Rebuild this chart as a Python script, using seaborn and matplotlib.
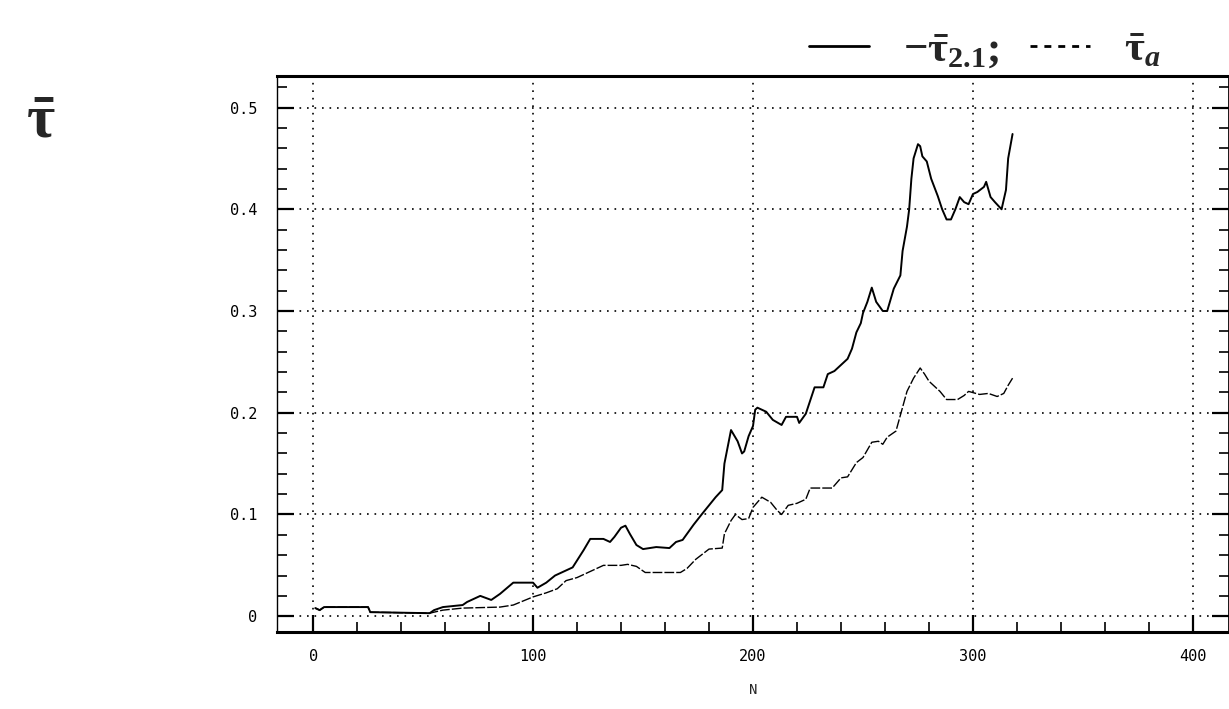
import numpy as np
import pandas as pd
import matplotlib
matplotlib.use("Agg")
import matplotlib.pyplot as plt
from matplotlib.lines import Line2D
from matplotlib.ticker import MultipleLocator
import seaborn as sns

# Valores: curva superior (-tau_2.1)
n_sup = [1, 3, 5, 25, 26, 53, 55, 59, 68, 70, 76, 81, 85, 91, 100, 102, 106, 110,
         118, 123, 126, 132, 135, 137, 140, 142, 144, 147, 150, 156, 162, 165, 168,
         173, 177, 183, 186, 187, 189, 190, 193, 195, 196, 198, 200, 201, 202, 206,
         209, 213, 215, 220, 221, 224, 226, 228, 232, 234, 237, 241, 243, 245, 247,
         249, 250, 252, 254, 256, 259, 261, 264, 267, 268, 270, 271, 272, 273, 275,
         276, 277, 279, 281, 284, 286, 288, 290, 292, 294, 296, 298, 300, 302, 305,
         306, 308, 310, 313, 315, 316, 318]
tau_sup = [0.008, 0.006, 0.009, 0.009, 0.004, 0.003, 0.006, 0.009, 0.011, 0.014,
           0.020, 0.016, 0.022, 0.033, 0.033, 0.028, 0.033, 0.040, 0.048, 0.065,
           0.076, 0.076, 0.073, 0.078, 0.087, 0.089, 0.081, 0.070, 0.066, 0.068,
           0.067, 0.073, 0.075, 0.090, 0.101, 0.117, 0.124, 0.150, 0.172, 0.183,
           0.172, 0.160, 0.162, 0.177, 0.187, 0.203, 0.205, 0.201, 0.193, 0.188,
           0.196, 0.196, 0.190, 0.199, 0.212, 0.225, 0.225, 0.238, 0.241, 0.249,
           0.253, 0.263, 0.279, 0.288, 0.298, 0.309, 0.323, 0.309, 0.300, 0.300,
           0.322, 0.335, 0.359, 0.383, 0.400, 0.430, 0.450, 0.464, 0.462, 0.452,
           0.447, 0.430, 0.413, 0.400, 0.390, 0.390, 0.400, 0.412, 0.407, 0.405,
           0.415, 0.417, 0.422, 0.427, 0.412, 0.407, 0.400, 0.419, 0.450, 0.474]

# Curva inferior (tau_a)
n_inf = [1, 3, 5, 25, 26, 53, 59, 68, 85, 91, 100, 106, 111, 115, 120, 127, 132,
         140, 143, 147, 151, 156, 167, 170, 174, 180, 186, 187, 190, 192, 195, 198,
         200, 204, 208, 211, 213, 216, 220, 224, 226, 236, 240, 243, 247, 250, 254,
         257, 259, 261, 265, 270, 273, 276, 278, 280, 285, 288, 293, 296, 298, 303,
         307, 311, 314, 316, 318]
tau_inf = [0.008, 0.006, 0.009, 0.009, 0.004, 0.003, 0.006, 0.008, 0.009, 0.011,
           0.019, 0.023, 0.027, 0.035, 0.038, 0.045, 0.050, 0.050, 0.051, 0.049,
           0.043, 0.043, 0.043, 0.047, 0.056, 0.066, 0.067, 0.081, 0.094, 0.100,
           0.095, 0.096, 0.107, 0.117, 0.112, 0.104, 0.100, 0.109, 0.111, 0.115,
           0.126, 0.126, 0.136, 0.137, 0.151, 0.156, 0.171, 0.172, 0.169, 0.176,
           0.182, 0.221, 0.234, 0.244, 0.238, 0.231, 0.221, 0.213, 0.213, 0.217,
           0.221, 0.218, 0.219, 0.216, 0.219, 0.227, 0.234]

x_ticks = [0, 100, 200, 300, 400]
y_ticks = [0, 0.1, 0.2, 0.3, 0.4, 0.5]
y_labels = ["0", "0.1", "0.2", "0.3", "0.4", "0.5"]

sns.set_style("white")
plt.rcParams["font.family"] = ["DejaVu Sans Mono", "DejaVu Sans"]
plt.rcParams["mathtext.fontset"] = "custom"
plt.rcParams["mathtext.rm"] = "Liberation Serif:bold"
plt.rcParams["mathtext.it"] = "Liberation Serif:italic:bold"
plt.rcParams["mathtext.bf"] = "Liberation Serif:bold"

fig = plt.figure(figsize=(12.29, 7.09), dpi=100)
ax = fig.add_axes([0.2254, 0.1086, 0.7746, 0.7842])

sns.lineplot(x=n_sup, y=tau_sup, ax=ax, color="black", linewidth=1.4,
             estimator=None, sort=False)
sns.lineplot(x=n_inf, y=tau_inf, ax=ax, color="black", linewidth=1.0,
             estimator=None, sort=False, linestyle=(0, (7, 1.5)))

ax.set_xlim(-16.4, 416.4)
ax.set_ylim(-0.0155, 0.531)
ax.set_xticks(x_ticks)
ax.set_yticks(y_ticks)
ax.set_yticklabels(y_labels)
ax.xaxis.set_minor_locator(MultipleLocator(20))
ax.yaxis.set_minor_locator(MultipleLocator(0.02))

ax.grid(True, which="major", color="black", linestyle=(0, (1, 3.5)), linewidth=1.2)
ax.tick_params(which="both", direction="in", left=True, right=True, bottom=True,
               top=False, colors="black", labelsize=11)
ax.tick_params(which="major", length=12, width=1.6)
ax.tick_params(which="minor", length=7, width=1.2)
ax.tick_params(axis="y", pad=14)
ax.tick_params(axis="x", pad=12)

for side in ["top", "bottom"]:
    ax.spines[side].set_linewidth(2.2)
ax.spines["left"].set_linewidth(1.0)
ax.spines["right"].set_linewidth(2.0)
for sp in ax.spines.values():
    sp.set_color("black")

ax.set_xlabel("N", fontsize=10, labelpad=14)
ax.set_ylabel("")

fig.text(0.033, 0.83, r"$\bar{\mathrm{\tau}}$", fontsize=44, ha="center", va="center")

handles = [Line2D([], [], color="black", linewidth=2.0),
           Line2D([], [], color="black", linewidth=2.0, linestyle=(0, (2.5, 2.5)))]
labels = [r"$-\bar{\mathrm{\tau}}_{2.1};$", r"$\bar{\mathrm{\tau}}_{a}$"]
fig.legend(handles, labels, loc="upper right", bbox_to_anchor=(0.976, 1.015),
           ncol=2, frameon=False, fontsize=31, handlelength=1.4,
           columnspacing=0.7, handletextpad=0.8)

fig.savefig("out.png", dpi=100)
plt.close(fig)
